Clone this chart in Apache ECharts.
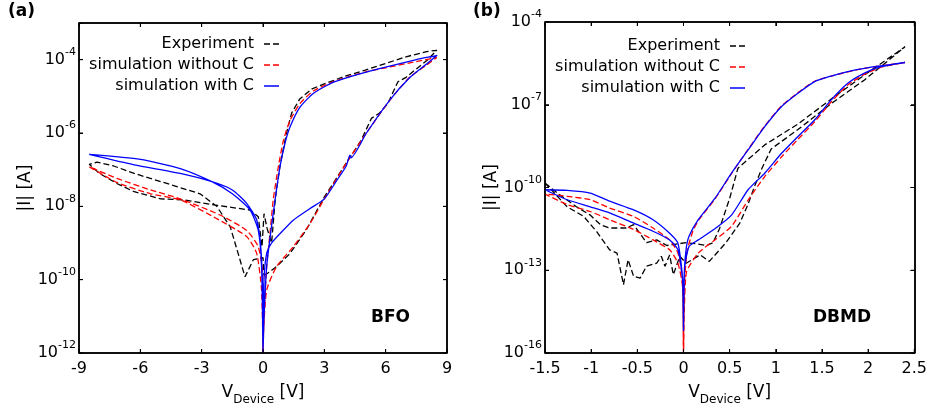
<!DOCTYPE html>
<html><head><meta charset="utf-8">
<script src="https://cdn.jsdelivr.net/npm/echarts@6/dist/echarts.min.js"></script>
<style>html,body{margin:0;padding:0;background:#fff}#c{width:930px;height:413px}</style>
</head><body><div id="c"></div>
<script>
// ---- tick values ----
const bfoXTicks = [-9, -6, -3, 0, 3, 6, 9];
const dbmdXTicks = [-1.5, -1, -0.5, 0, 0.5, 1, 1.5, 2, 2.5];
const bfoYTicks = [-12, -10, -8, -6, -4];      // decade exponents of |I|
const dbmdYTicks = [-16, -13, -10, -7, -4];
const legendNames = ['Experiment', 'simulation without C', 'simulation with C'];

// ---- BFO panel: [V, |I| (A)] ----
const bfoExp = [[0.05,1.3e-10],[0.3,1.6e-10],[0.67,2.3e-10],[1.3,5.0e-10],[2.1,2.2e-9],[3.0,1.8e-8],[4.07,1.5e-7],[4.8,6.3e-7],[5.3,2.5e-6],[5.7,3.5e-6],[6.1,6.3e-6],[6.6,2.5e-5],[7.0,3.3e-5],[7.5,5.6e-5],[8.0,9.3e-5],[8.5,1.8e-4],
 [8.0,1.66e-4],[7.0,1.2e-4],[6.0,7.9e-5],[5.0,5.2e-5],[4.0,3.5e-5],[3.0,2.2e-5],[2.4,1.6e-5],[1.8,8.5e-6],[1.4,3.5e-6],[1.15,1.0e-6],[0.83,1.26e-7],[0.6,1.6e-8],[0.42,1.0e-9],[0.2,2.5e-9],[0.05,6.3e-9],[-0.05,7.9e-10],[-0.23,5.2e-9],[-0.63,7.9e-9],[-2.26,1.07e-8],[-3.87,1.5e-8],[-5.0,1.6e-8],[-6.3,2.5e-8],[-7.15,4.2e-8],[-8.0,7.9e-8],[-8.5,1.4e-7],
 [-8.12,1.6e-7],[-7.3,1.26e-7],[-6.3,7.9e-8],[-4.7,4.2e-8],[-3.08,2.2e-8],[-2.26,1.0e-8],[-1.6,2.75e-9],[-0.88,1.2e-10],[-0.47,3.5e-10],[0.0,4.0e-10],[0.05,1.3e-10]];
const bfoNoC = [[0.0,1e-12],[0.02,3.2e-12],[0.18,5.2e-11],[0.67,2.3e-10],[1.48,7.9e-10],[2.3,3.4e-9],[3.0,1.6e-8],[4.07,1.5e-7],[5.06,1.0e-6],[6.2,7.8e-6],[7.17,3.3e-5],[8.0,7.1e-5],[8.5,1.15e-4],
 [7.5,8.9e-5],[6.0,6.0e-5],[5.06,4.7e-5],[3.43,2.5e-5],[2.46,1.4e-5],[1.8,6.3e-6],[1.32,2.2e-6],[1.0,6.3e-7],[0.75,1.2e-7],[0.5,1.5e-8],[0.34,1.8e-9],[0.18,2.3e-10],[0.05,1e-11],[0.0,1e-12],
 [-0.02,1.5e-10],[-0.23,7.9e-10],[-0.8,2.2e-9],[-2.1,5.8e-9],[-4.05,1.6e-8],[-5.5,2.8e-8],[-7.15,5.8e-8],[-8.5,1.2e-7],
 [-7.15,4.5e-8],[-5.5,2.2e-8],[-4.05,1.5e-8],[-2.43,5.2e-9],[-0.8,1.5e-9],[-0.31,5.2e-10],[-0.07,5.2e-11],[0.0,1e-12]];
const bfoC = [[0.0,1e-12],[0.05,1e-10],[0.18,5.2e-10],[0.42,1.0e-9],[0.83,1.8e-9],[1.48,4.2e-9],[2.3,8.7e-9],[3.0,1.6e-8],[3.6,5.0e-8],[4.07,1.26e-7],[4.25,2.5e-7],[4.3,2.1e-7],[5.06,1.0e-6],[6.2,7.9e-6],[7.17,3.2e-5],[8.0,7.6e-5],[8.5,1.3e-4],
 [7.5,1.0e-4],[6.0,6.3e-5],[5.06,4.6e-5],[3.43,2.4e-5],[2.46,1.2e-5],[1.8,5.0e-6],[1.32,1.45e-6],[1.07,5.1e-7],[0.83,1.2e-7],[0.59,1.5e-8],[0.37,1.8e-9],[0.18,2.3e-10],[0.05,1e-11],[0.0,1e-12],
 [-0.02,5.2e-11],[-0.11,7.9e-10],[-0.31,4.3e-9],[-0.8,1.2e-8],[-1.5,2.8e-8],[-2.5,4.7e-8],[-4.05,7.9e-8],[-6.3,1.35e-7],[-8.5,2.6e-7],
 [-6.0,1.9e-7],[-4.05,1.07e-7],[-2.5,4.7e-8],[-1.5,2.2e-8],[-0.63,7.9e-9],[-0.23,2.2e-9],[-0.07,2.3e-10],[0.0,1e-12]];

// ---- DBMD panel: [V, |I| (A)] ----
const dbmdExp = [[-1.5,1.45e-10],[-1.34,5.4e-11],[-1.16,2.0e-11],[-1.01,1.0e-11],[-0.9,4.5e-12],[-0.8,3.4e-12],[-0.62,3.4e-12],[-0.54,4.5e-12],[-0.4,1.0e-12],[-0.29,1.26e-12],[-0.18,7.9e-13],[0.03,1.0e-12],[0.16,8.9e-13],[0.25,7.9e-13],[0.32,1.0e-12],[0.39,3.2e-12],[0.5,4.0e-11],[0.59,5.0e-10],[0.88,3.5e-9],[1.24,2.0e-8],[1.6,1.6e-7],[1.96,1.2e-6],[2.4,1.26e-5],
 [1.96,7.9e-7],[1.6,1.1e-7],[1.24,1.26e-8],[0.95,2.5e-9],[0.85,5.0e-10],[0.77,1.1e-10],[0.7,2.5e-11],[0.61,5.1e-12],[0.46,1.0e-12],[0.28,2.1e-13],[0.18,3.6e-13],[0.03,1.8e-13],[-0.04,3.2e-13],[-0.11,6.9e-14],[-0.15,3.6e-13],[-0.2,1.4e-13],[-0.24,3.2e-13],[-0.29,1.8e-13],[-0.4,1.4e-13],[-0.47,5.2e-14],[-0.54,6.0e-14],[-0.6,2.4e-13],[-0.65,3.0e-14],[-0.72,4.2e-13],[-0.8,5.5e-13],[-0.94,2.5e-12],[-1.08,8.9e-12],[-1.26,2.0e-11],[-1.5,1.45e-10]];
const dbmdNoC = [[0.0,1e-16],[0.01,3.2e-14],[0.04,5.0e-13],[0.1,2.5e-12],[0.16,6.3e-12],[0.34,3.8e-11],[0.52,3.2e-10],[0.7,2.4e-9],[0.88,1.7e-8],[1.06,8.9e-8],[1.24,2.75e-7],[1.42,7.1e-7],[1.6,1.1e-6],[1.96,2.1e-6],[2.4,3.4e-6],
 [2.14,2.3e-6],[1.96,1.26e-6],[1.78,5.2e-7],[1.6,1.26e-7],[1.42,2.4e-8],[1.24,5.6e-9],[1.06,1.26e-9],[0.88,2.5e-10],[0.7,3.5e-11],[0.52,3.9e-12],[0.34,1.26e-12],[0.16,4.2e-13],[0.03,7.9e-14],[0.0,1e-16],
 [-0.01,4.5e-14],[-0.06,4.2e-13],[-0.15,1.26e-12],[-0.33,3.4e-12],[-0.54,8.9e-12],[-0.8,1.8e-11],[-1.01,3.6e-11],[-1.26,4.8e-11],[-1.5,5.8e-11],
 [-1.26,2.4e-11],[-1.01,1.35e-11],[-0.8,6.8e-12],[-0.54,3.0e-12],[-0.33,1.26e-12],[-0.15,5.5e-13],[-0.06,1.8e-13],[-0.01,2.5e-14],[0.0,1e-16]];
const dbmdC = [[0.0,6.3e-16],[0.01,1e-13],[0.03,6.3e-13],[0.06,1.7e-12],[0.16,6.8e-12],[0.34,4.0e-11],[0.52,3.3e-10],[0.7,2.3e-9],[0.88,1.6e-8],[1.06,8.5e-8],[1.24,2.6e-7],[1.42,6.9e-7],[1.6,1.1e-6],[1.78,1.6e-6],[1.96,2.1e-6],[2.2,2.75e-6],[2.4,3.4e-6],
 [2.14,2.4e-6],[1.96,1.4e-6],[1.78,6.0e-7],[1.6,1.5e-7],[1.42,2.8e-8],[1.24,7.1e-9],[1.06,1.7e-9],[0.88,3.3e-10],[0.7,8.3e-11],[0.52,1.0e-11],[0.34,3.2e-12],[0.16,1.26e-12],[0.06,7.2e-13],[0.01,1e-13],[0.0,6.3e-16],
 [-0.01,5.0e-14],[-0.06,9.5e-13],[-0.15,2.2e-12],[-0.33,6.8e-12],[-0.54,1.55e-11],[-0.8,3.2e-11],[-1.01,6.3e-11],[-1.26,7.9e-11],[-1.5,8.3e-11],
 [-1.26,3.6e-11],[-1.01,2.0e-11],[-0.8,1.2e-11],[-0.54,5.1e-12],[-0.33,2.6e-12],[-0.15,1.26e-12],[-0.06,5.5e-13],[-0.01,4.5e-14],[0.0,6.3e-16]];

const FONT = 'DejaVu Sans';
const GRIDS = [
  {left: 79, top: 23, width: 368, height: 330},
  {left: 545, top: 22, width: 370, height: 331}
];
const chart = echarts.init(document.getElementById('c'));

// plotted on a decade (log10) scale
function toDecades(arr) { return arr.map(p => [p[0], Math.log10(p[1])]); }

function powFormatter(ticks) {
  return function (v) {
    const e = Math.round(v);
    if (Math.abs(v - e) > 1e-6 || ticks.indexOf(e) < 0) return '';
    return '{m|10}{e|' + e + '}';
  };
}
function richPow() {
  return {
    m: {fontSize: 16, fontFamily: FONT, color: '#000', lineHeight: 26},
    e: {fontSize: 11, fontFamily: FONT, color: '#000', lineHeight: 10, verticalAlign: 'top'}
  };
}
const xName = '{v|V}{d|Device}{v| [V]}';
function richX() {
  return {
    v: {fontSize: 17, fontFamily: FONT, color: '#000', lineHeight: 18, verticalAlign: 'top'},
    d: {fontSize: 12, fontFamily: FONT, color: '#000', lineHeight: 32}
  };
}
function axLine() { return {show: true, onZero: false, lineStyle: {color: '#000', width: 1.5}}; }
function tick() { return {show: true, inside: true, length: 4, lineStyle: {color: '#000', width: 1}}; }

function xAxes(gi, min, max, interval) {
  return [
    {type: 'value', gridIndex: gi, min: min, max: max, interval: interval, position: 'bottom',
     axisLine: axLine(), axisTick: tick(),
     axisLabel: {fontSize: 16, fontFamily: FONT, color: '#000', margin: 8},
     splitLine: {show: false},
     name: xName, nameLocation: 'middle', nameGap: 31, nameTextStyle: {rich: richX()}},
    {type: 'value', gridIndex: gi, min: min, max: max, interval: interval, position: 'top',
     axisLine: axLine(), axisTick: tick(),
     axisLabel: {show: false}, splitLine: {show: false}}
  ];
}
function yAxes(gi, min, max, interval, ticks) {
  return [
    {type: 'value', gridIndex: gi, min: min, max: max, interval: interval, position: 'left',
     axisLine: axLine(), axisTick: tick(),
     axisLabel: {formatter: powFormatter(ticks), rich: richPow(), margin: 3},
     splitLine: {show: false},
     name: '|I| [A]', nameLocation: 'middle', nameGap: 45,
     nameTextStyle: {fontSize: 17, fontFamily: FONT, color: '#000'}},
    {type: 'value', gridIndex: gi, min: min, max: max, interval: interval, position: 'right',
     axisLine: axLine(), axisTick: tick(),
     axisLabel: {show: false}, splitLine: {show: false}}
  ];
}

const styles = [
  {color: '#000000', type: [6, 3]},
  {color: '#ff0000', type: [6, 3]},
  {color: '#0000ff', type: 'solid'}
];
const icons = [
  'path://M0,0h6v1.5h-6z M9,0h6v1.5h-6z',
  'path://M0,0h6v1.5h-6z M9,0h6v1.5h-6z',
  'path://M0,0h15v1.5h-15z'
];
function mkSeries(name, data, xi, yi, k) {
  return {
    type: 'line', name: name, data: toDecades(data), xAxisIndex: xi, yAxisIndex: yi,
    showSymbol: false, symbol: 'none', smooth: k === 0 ? false : 0.2,
    lineStyle: {color: styles[k].color, width: 1.3, type: styles[k].type},
    itemStyle: {color: styles[k].color}
  };
}

function legends(rightPx, tops) {
  return legendNames.map((n, i) => ({
    data: [{name: n, icon: icons[i], itemStyle: {color: styles[i].color}}],
    orient: 'vertical', align: 'right', right: rightPx, top: tops[i],
    itemWidth: 15, itemHeight: 10, itemGap: 0, padding: 0, selectedMode: false,
    textStyle: {fontSize: 16, fontFamily: FONT, color: '#000', padding: [0, 5, 0, 0]}
  }));
}

const textEls = [
  {id: 'ta', type: 'text', left: 8, top: 3, style: {text: '(a)', font: 'bold 17px "DejaVu Sans"', fill: '#000'}},
  {id: 'tb', type: 'text', left: 473, top: 3, style: {text: '(b)', font: 'bold 17px "DejaVu Sans"', fill: '#000'}},
  {id: 'tbfo', type: 'text', left: 371, top: 309, style: {text: 'BFO', font: 'bold 17px "DejaVu Sans"', fill: '#000'}},
  {id: 'tdbmd', type: 'text', left: 813, top: 309, style: {text: 'DBMD', font: 'bold 17px "DejaVu Sans"', fill: '#000'}}
];

const option = {
  animation: false,
  grid: GRIDS,
  xAxis: [].concat(xAxes(0, -9, 9, 3), xAxes(1, -1.5, 2.5, 0.5)),
  yAxis: [].concat(yAxes(0, -12, -3, 2, bfoYTicks), yAxes(1, -16, -4, 3, dbmdYTicks)),
  legend: [].concat(legends(651, [36, 57, 78]), legends(185, [38, 59, 80])),
  series: [
    mkSeries(legendNames[0], bfoExp, 0, 0, 0),
    mkSeries(legendNames[1], bfoNoC, 0, 0, 1),
    mkSeries(legendNames[2], bfoC, 0, 0, 2),
    mkSeries(legendNames[0], dbmdExp, 2, 2, 0),
    mkSeries(legendNames[1], dbmdNoC, 2, 2, 1),
    mkSeries(legendNames[2], dbmdC, 2, 2, 2)
  ],
  graphic: {elements: textEls}
};
chart.setOption(option);

// Frame and mirrored tick marks, positioned through the chart's own axis scales
function axisPix(finder, v, lo, hi, p0, p1) {
  let r = null;
  try { r = chart.convertToPixel(finder, v); } catch (e) { r = null; }
  if (typeof r !== 'number' || !isFinite(r)) r = p0 + (v - lo) / (hi - lo) * (p1 - p0);
  return r;
}
function seg(id, x1, y1, x2, y2, w) {
  return {id: id, type: 'line', z: 200, zlevel: 0, silent: true,
          shape: {x1: x1, y1: y1, x2: x2, y2: y2},
          style: {stroke: '#000', lineWidth: w, fill: null}};
}
function frameEls(g, xi, yi, xmin, xmax, ymin, ymax, xTicks, yTicks, tag) {
  const G = GRIDS[g];
  const L = G.left, R = G.left + G.width, T = G.top, B = G.top + G.height;
  const fx = v => axisPix({xAxisIndex: xi}, v, xmin, xmax, L, R);
  const fy = v => axisPix({yAxisIndex: yi}, v, ymin, ymax, B, T);
  const els = [
    seg(tag + 'L', L, T, L, B, 1.5), seg(tag + 'R', R, T, R, B, 1.5),
    seg(tag + 'T', L, T, R, T, 1.5), seg(tag + 'B', L, B, R, B, 1.5)
  ];
  xTicks.forEach((v, i) => {
    const x = fx(v);
    els.push(seg(tag + 'xb' + i, x, B, x, B - 4, 1));
    els.push(seg(tag + 'xt' + i, x, T, x, T + 4, 1));
  });
  yTicks.forEach((v, i) => {
    const y = fy(v);
    els.push(seg(tag + 'yl' + i, L, y, L + 4, y, 1));
    els.push(seg(tag + 'yr' + i, R, y, R - 4, y, 1));
  });
  return els;
}
let extra = [];
try { extra = extra.concat(frameEls(0, 0, 0, -9, 9, -12, -3, bfoXTicks, bfoYTicks, 'a')); } catch (e) {}
try { extra = extra.concat(frameEls(1, 2, 2, -1.5, 2.5, -16, -4, dbmdXTicks, dbmdYTicks, 'b')); } catch (e) {}
chart.setOption({graphic: {elements: textEls.concat(extra)}});
</script>
</body></html>
